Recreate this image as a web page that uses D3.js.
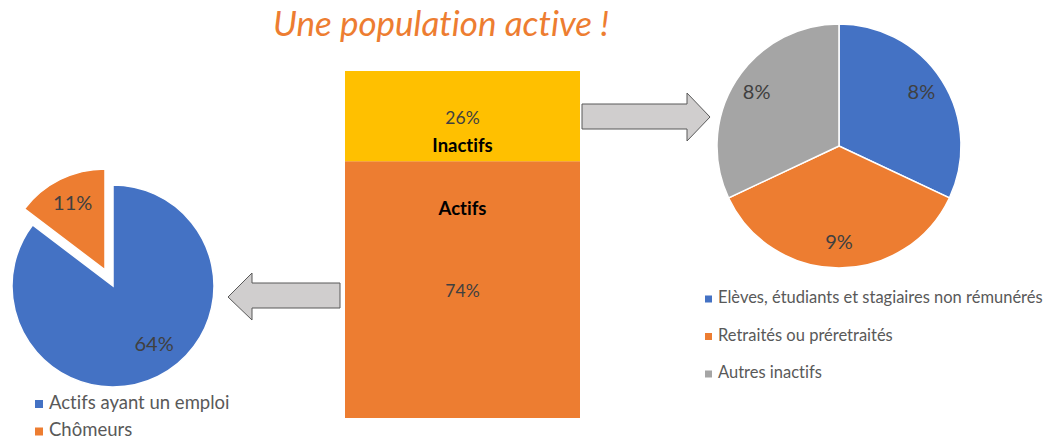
<!DOCTYPE html>
<head>
    <meta charset="utf-8">
    <title>Une population active !</title>
    <style>
        html, body {
            margin: 0;
            background: #fff;
        }
        svg text {
            font-family: Lato, "Open Sans", sans-serif;
            font-variant-ligatures: none;
        }
    </style>
</head>
<body>
<script src="https://cdn.jsdelivr.net/npm/d3@7"></script>
<script>

    // data
    const barCategories = ["Actifs", "Inactifs"];
    const barValues = [74, 26];

    const activeLabels = ["Actifs ayant un emploi", "Chômeurs"];
    const activeValues = [64, 11];

    const inactiveLabels = ["Elèves, étudiants et stagiaires non rémunérés", "Retraités ou préretraités", "Autres inactifs"];
    const inactiveValues = [8, 9, 8];

    const width = 1047,
        height = 441;

    const blue = "#4472c4", orange = "#ed7d31", grey = "#a5a5a5", yellow = "#ffc000";
    const labelColor = "#404040", legendColor = "#595959";

    const svg = d3.select("body").append("svg")
        .attr("width", width)
        .attr("height", height);

    // title
    svg.append("text")
        .attr("x", 441)
        .attr("y", 36)
        .attr("text-anchor", "middle")
        .attr("fill", orange)
        .style("font-style", "italic")
        .style("font-size", "35px")
        .text("Une population active !");

    // arrows (decoration)
    const arrowStyle = g => g.attr("fill", "#d0cece").attr("stroke", "#595959").attr("stroke-width", 1);
    svg.append("path")
        .attr("d", "M340,283 L252,283 L252,273 L228,297 L252,320 L252,308 L340,308 Z")
        .call(arrowStyle);
    svg.append("path")
        .attr("d", "M582,104 L687,104 L687,93 L710,117 L687,141 L687,129 L582,129 Z")
        .call(arrowStyle);

    // stacked bar in the middle
    const y = d3.scaleLinear().domain([0, 100]).range([418, 71]);
    const barX = 345, barW = 235;
    const stack = [];
    let acc = 0;
    barValues.forEach((v, i) => {
        stack.push({name: barCategories[i], value: v, y0: acc, y1: acc + v});
        acc += v;
    });
    const barColors = [orange, yellow];

    const bar = svg.append("g");
    bar.selectAll("rect")
        .data(stack)
        .enter().append("rect")
        .attr("x", barX)
        .attr("width", barW)
        .attr("y", d => y(d.y1))
        .attr("height", d => y(d.y0) - y(d.y1))
        .attr("fill", (d, i) => barColors[i]);

    bar.selectAll("text.val")
        .data(stack)
        .enter().append("text")
        .attr("class", "val")
        .attr("x", barX + barW / 2)
        .attr("y", d => (y(d.y0) + y(d.y1)) / 2 + 3)
        .attr("text-anchor", "middle")
        .attr("dominant-baseline", "middle")
        .attr("fill", labelColor)
        .style("font-size", "17.5px")
        .text(d => d.value + "%");

    // series names: Actifs near top of its block, Inactifs near bottom of its block
    bar.selectAll("text.name")
        .data(stack)
        .enter().append("text")
        .attr("class", "name")
        .attr("x", barX + barW / 2)
        .attr("y", d => d.name === "Actifs" ? y(d.y1) + 49 : y(d.y0) - 14)
        .attr("text-anchor", "middle")
        .attr("dominant-baseline", "middle")
        .attr("fill", "#000")
        .style("font-size", "18.5px")
        .style("font-weight", "bold")
        .text(d => d.name);

    const pie = d3.pie().sort(null).value(d => d);

    // left pie: actifs
    const leftR = 101, leftC = [113, 286], explode = 18;
    const leftArc = d3.arc().innerRadius(0).outerRadius(leftR);
    const leftColors = [blue, orange];
    const leftG = svg.append("g").attr("transform", `translate(${leftC})`);
    const leftSlices = leftG.selectAll("g")
        .data(pie(activeValues))
        .enter().append("g")
        .attr("transform", (d, i) => {
            if (i !== 1) return null;
            const a = (d.startAngle + d.endAngle) / 2;
            return `translate(${Math.sin(a) * explode},${-Math.cos(a) * explode})`;
        });
    leftSlices.append("path")
        .attr("d", leftArc)
        .attr("fill", (d, i) => leftColors[i])
        .attr("stroke", "#fff")
        .attr("stroke-width", 1.5);
    leftSlices.append("text")
        .attr("transform", d => {
            const a = (d.startAngle + d.endAngle) / 2 - 0.14 * (d.index === 0 ? 1 : 0);
            const r = leftR * 0.72;
            return `translate(${Math.sin(a) * r},${-Math.cos(a) * r})`;
        })
        .attr("text-anchor", "middle")
        .attr("dominant-baseline", "middle")
        .attr("fill", labelColor)
        .style("font-size", "20px")
        .text(d => d.data + "%");

    // right pie: inactifs
    const rightR = 122, rightC = [839, 146];
    const rightArc = d3.arc().innerRadius(0).outerRadius(rightR);
    const rightColors = [blue, orange, grey];
    const rightG = svg.append("g").attr("transform", `translate(${rightC})`);
    const rightSlices = rightG.selectAll("g")
        .data(pie(inactiveValues))
        .enter().append("g");
    rightSlices.append("path")
        .attr("d", rightArc)
        .attr("fill", (d, i) => rightColors[i])
        .attr("stroke", "#fff")
        .attr("stroke-width", 1.5);
    rightSlices.append("text")
        .attr("transform", d => {
            const a = (d.startAngle + d.endAngle) / 2;
            const r = rightR * 0.8;
            return `translate(${Math.sin(a) * r},${-Math.cos(a) * r})`;
        })
        .attr("text-anchor", "middle")
        .attr("dominant-baseline", "middle")
        .attr("fill", labelColor)
        .style("font-size", "20px")
        .text(d => d.data + "%");

    // legends
    function legend(x, y0, step, size, fontSize, labels, colors) {
        const g = svg.append("g");
        const items = g.selectAll("g")
            .data(labels)
            .enter().append("g")
            .attr("transform", (d, i) => `translate(${x},${y0 + i * step})`);
        items.append("rect")
            .attr("x", 0)
            .attr("y", -size / 2)
            .attr("width", size)
            .attr("height", size)
            .attr("fill", (d, i) => colors[i]);
        items.append("text")
            .attr("x", size + 6)
            .attr("y", 0)
            .attr("dominant-baseline", "middle")
            .attr("fill", legendColor)
            .style("font-size", fontSize + "px")
            .text(d => d);
    }

    legend(35, 404, 27.5, 8, 18.5, activeLabels, leftColors);
    legend(705, 299, 37.5, 7, 16.5, inactiveLabels, rightColors);

</script>
</body>
